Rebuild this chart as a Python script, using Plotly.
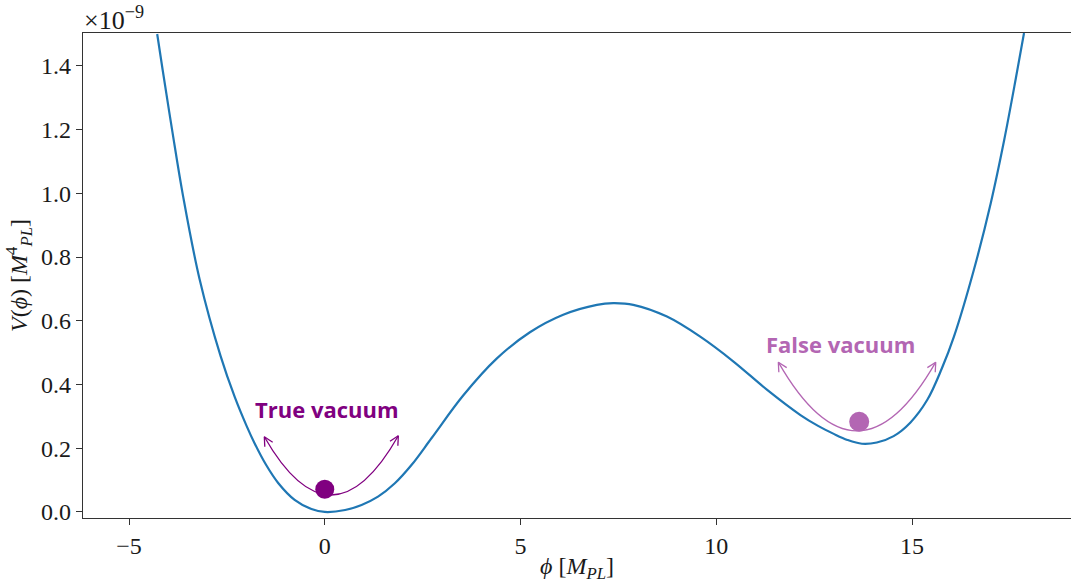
import math
import plotly.graph_objects as go

# Scalar potential V(phi), phi in M_PL, V in units of 1e-9 M_PL^4
phi = [-4.28, -4.14, -3.89, -3.62, -3.20, -2.66, -2.30, -2.00, -1.79, -1.50,
       -1.19, -0.77, -0.34, 0.00, 0.52, 0.94, 1.36, 1.79, 2.22, 2.73,
       3.54, 4.39, 5.24, 6.09, 6.95, 7.37, 7.88, 8.74, 9.59, 10.44,
       11.30, 12.15, 12.60, 13.00, 13.35, 13.72, 14.10, 14.53, 14.96, 15.39,
       15.76, 16.07, 16.58, 17.01, 17.35, 17.65, 17.86]
V = [1.500, 1.387, 1.192, 0.992, 0.732, 0.489, 0.361, 0.271, 0.215, 0.148,
     0.091, 0.038, 0.009, 0.000, 0.006, 0.022, 0.048, 0.090, 0.148, 0.232,
     0.366, 0.481, 0.564, 0.619, 0.650, 0.655, 0.650, 0.613, 0.550, 0.472,
     0.383, 0.304, 0.270, 0.245, 0.226, 0.214, 0.218, 0.238, 0.281, 0.352,
     0.450, 0.550, 0.760, 0.969, 1.165, 1.360, 1.503]

# Field sitting in each vacuum
ball_phi = [0.0, 13.65]
ball_V = [0.071, 0.283]
labels = ["True vacuum", "False vacuum"]

x_ticks = [-5, 0, 5, 10, 15]
y_ticks = [0.0, 0.2, 0.4, 0.6, 0.8, 1.0, 1.2, 1.4]

# ---- layout geometry ----
W, H = 1071, 583
MARGIN = dict(l=83, r=0, t=33, b=65, pad=0)
X_RANGE = [-6.175, 19.06]
Y_RANGE = [-0.019, 1.503]
SX = (W - MARGIN["l"] - MARGIN["r"]) / (X_RANGE[1] - X_RANGE[0])
SY = (H - MARGIN["t"] - MARGIN["b"]) / (Y_RANGE[1] - Y_RANGE[0])

PURPLE = "#800080"
PURPLE_LIGHT = "#b366b3"
BALL_COLORS = [PURPLE, PURPLE_LIGHT]

# oscillation arcs: (left tip, right tip, bezier control) in data units
arcs = [
    ((-1.544, 0.236), (1.879, 0.239), (0.167, -0.131)),
    ((11.585, 0.470), (15.605, 0.470), (13.595, 0.0386)),
]
label_pos = [(0.06, 0.322), (13.16, 0.526)]

AXIS_FONT = dict(family="Liberation Serif, Times New Roman, serif", size=24, color="#1a1a1a")
LABEL_FONT = "Open Sans, Noto Sans, sans-serif"

fig = go.Figure()

fig.add_trace(go.Scatter(
    x=phi, y=V, mode="lines",
    line=dict(color="#1f77b4", width=2.2, shape="spline", smoothing=1.0),
    hoverinfo="skip", showlegend=False,
))

fig.add_trace(go.Scatter(
    x=ball_phi, y=ball_V, mode="markers",
    marker=dict(size=[19, 20], color=BALL_COLORS, opacity=1, line=dict(width=0)),
    hoverinfo="skip", showlegend=False,
))

shapes = []
annotations = []


def head(tip, ctrl, color):
    """Open '->' style arrowhead at tip, aligned with the bezier tangent."""
    bx = (ctrl[0] - tip[0]) * SX
    by = (ctrl[1] - tip[1]) * SY
    n = math.hypot(bx, by)
    bx, by = bx / n, by / n
    out = []
    for ang in (math.radians(27), -math.radians(27)):
        dx = (bx * math.cos(ang) - by * math.sin(ang)) * 10
        dy = (bx * math.sin(ang) + by * math.cos(ang)) * 10
        out.append(dict(
            type="line", xref="x", yref="y",
            xsizemode="pixel", ysizemode="pixel",
            xanchor=tip[0], yanchor=tip[1],
            x0=0, y0=0, x1=dx, y1=dy,
            line=dict(color=color, width=1.3),
        ))
    return out


for (lt, rt, c), col in zip(arcs, BALL_COLORS):
    shapes.append(dict(
        type="path", xref="x", yref="y",
        path=f"M {lt[0]},{lt[1]} Q {c[0]},{c[1]} {rt[0]},{rt[1]}",
        line=dict(color=col, width=1.3),
    ))
    shapes += head(lt, c, col)
    shapes += head(rt, c, col)

for (lx, ly), text, col in zip(label_pos, labels, BALL_COLORS):
    annotations.append(dict(
        x=lx, y=ly, xref="x", yref="y", text=f"<b>{text}</b>",
        showarrow=False, xanchor="center", yanchor="middle",
        font=dict(family=LABEL_FONT, size=22, color=col),
    ))

# axis offset text
annotations.append(dict(
    x=0, y=1, xref="paper", yref="paper", xanchor="left", yanchor="bottom",
    text="×10<sup>−9</sup>", showarrow=False, yshift=-4, xshift=-1,
    font=dict(family=AXIS_FONT["family"], size=26, color="#1a1a1a"),
))

fig.update_layout(
    width=W, height=H, margin=MARGIN,
    paper_bgcolor="white", plot_bgcolor="white",
    shapes=shapes, annotations=annotations,
    showlegend=False,
)

axis_common = dict(
    showgrid=False, zeroline=False, showline=True,
    linecolor="#333333", linewidth=1.3,
    ticks="outside", ticklen=6, tickwidth=1.2, tickcolor="#333333",
    tickfont=AXIS_FONT,
)

fig.update_xaxes(
    range=X_RANGE, tickvals=x_ticks, mirror=True,
    title=dict(text="<i>ϕ</i> [<i>M</i><sub><i>PL</i></sub>]",
               font=AXIS_FONT, standoff=4),
    **axis_common,
)
fig.update_yaxes(
    range=Y_RANGE, tickvals=y_ticks, tickformat=".1f", mirror=False,
    title=dict(text="<i>V</i>(<i>ϕ</i>) [<i>M</i><sup>4</sup><sub><i>PL</i></sub>]",
               font=AXIS_FONT, standoff=6),
    **axis_common,
)

fig.write_html("out.html")
